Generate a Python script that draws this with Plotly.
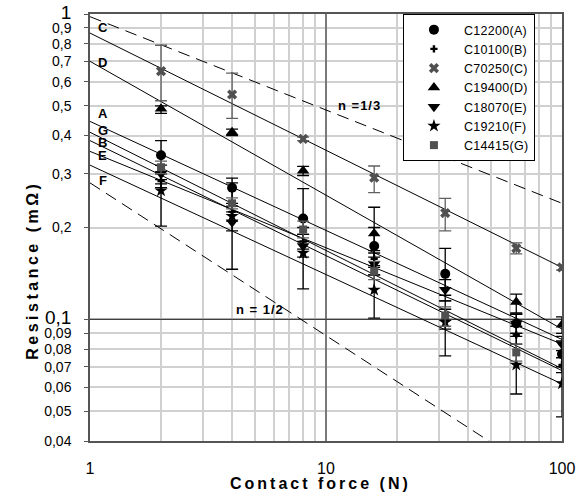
import numpy as np
import plotly.graph_objects as go

FONT = "Liberation Sans, Arial, sans-serif"

force = [2, 4, 8, 16, 32, 64, 100]
series_names = ["C12200(A)", "C10100(B)", "C70250(C)", "C19400(D)", "C18070(E)", "C19210(F)", "C14415(G)"]

res_A = [0.345, 0.27, 0.214, 0.174, 0.141, 0.097, 0.077]
res_B = [0.284, 0.225, 0.18, 0.158, 0.10, 0.089, 0.071]
res_C = [0.65, 0.545, 0.39, 0.291, 0.223, 0.171, 0.148]
res_D = [0.49, 0.41, 0.307, 0.191, None, 0.114, 0.096]
res_E = [0.30, 0.208, 0.174, 0.152, 0.125, 0.097, 0.083]
res_F = [0.264, 0.218, 0.165, 0.125, 0.098, 0.071, 0.0617]
res_G = [0.315, 0.24, 0.197, 0.144, 0.103, 0.078, None]

low_A = [0.30, 0.24, 0.18, 0.14, 0.12, 0.088, 0.07]
up_A = [0.385, 0.29, 0.268, 0.20, 0.171, 0.104, 0.085]
low_B = [0.27, 0.21, 0.17, 0.148, 0.093, 0.083, 0.067]
up_B = [0.30, 0.235, 0.19, 0.168, 0.108, 0.095, 0.075]
low_C = [0.52, 0.455, 0.385, 0.26, 0.195, 0.164, 0.145]
up_C = [0.79, 0.64, 0.395, 0.318, 0.249, 0.178, 0.151]
low_D = [0.473, 0.40, 0.296, 0.16, None, 0.105, 0.09]
up_D = [0.50, 0.42, 0.317, 0.233, None, 0.121, 0.102]
low_E = [0.278, 0.195, 0.16, 0.14, 0.115, 0.09, 0.079]
up_E = [0.32, 0.225, 0.19, 0.165, 0.135, 0.104, 0.088]
low_F = [0.202, 0.146, 0.126, 0.101, 0.076, 0.057, 0.048]
up_F = [0.287, 0.28, 0.20, 0.15, 0.115, 0.09, 0.075]
low_G = [0.30, 0.23, 0.185, 0.135, 0.095, 0.073, None]
up_G = [0.33, 0.25, 0.21, 0.155, 0.11, 0.083, None]

# power-law fit lines: resistance at F = 1 N and at F = 100 N
fit_force = [1, 100]
fit_A = [0.445, 0.086]
fit_B = [0.385, 0.068]
fit_C = [0.866, 0.148]
fit_D = [0.70, 0.093]
fit_E = [0.355, 0.083]
fit_F = [0.32, 0.0615]
fit_G = [0.41, 0.069]

# reference slopes
ref_n13 = [0.98, 0.24]
ref_n12 = [0.28, 0.028]

values = [res_A, res_B, res_C, res_D, res_E, res_F, res_G]
lows = [low_A, low_B, low_C, low_D, low_E, low_F, low_G]
ups = [up_A, up_B, up_C, up_D, up_E, up_F, up_G]
fits = [fit_A, fit_B, fit_C, fit_D, fit_E, fit_F, fit_G]

styles = [
    dict(symbol="circle", size=10, color="black"),
    dict(symbol="cross", size=6, color="black"),
    dict(symbol="x", size=9, color="#505050"),
    dict(symbol="triangle-up", size=11, color="black"),
    dict(symbol="triangle-down", size=11, color="black"),
    dict(symbol="star", size=10, color="black"),
    dict(symbol="square", size=8, color="#505050"),
]


def spaced(s, px):
    return "<span style='letter-spacing:%spx'>%s</span>" % (px, s)


fig = go.Figure()

# major grid lines (darker) at 10 N and 0.1 mOhm
fig.add_trace(go.Scatter(x=[10, 10], y=[0.04, 1], mode="lines",
                         line=dict(color="#404040", width=1.2), showlegend=False, hoverinfo="skip"))
fig.add_trace(go.Scatter(x=[1, 100], y=[0.1, 0.1], mode="lines",
                         line=dict(color="#404040", width=1.2), showlegend=False, hoverinfo="skip"))

# reference dashed lines
for ref in (ref_n13, ref_n12):
    fig.add_trace(go.Scatter(x=fit_force, y=ref, mode="lines",
                             line=dict(color="black", width=1, dash="12px,7px"),
                             showlegend=False, hoverinfo="skip"))

# fit lines
for fit in fits:
    fig.add_trace(go.Scatter(x=fit_force, y=fit, mode="lines",
                             line=dict(color="black", width=1), showlegend=False, hoverinfo="skip"))

# data points with error bars
for name, vals, lo, up, st in zip(series_names, values, lows, ups, styles):
    plus = [None if (v is None or u is None) else u - v for v, u in zip(vals, up)]
    minus = [None if (v is None or l is None) else v - l for v, l in zip(vals, lo)]
    ecol = "#606060" if st["color"] != "black" else "black"
    fig.add_trace(go.Scatter(
        x=force, y=vals, mode="markers", name=spaced(name, 0.3),
        marker=dict(symbol=st["symbol"], size=st["size"], color=st["color"],
                    line=dict(width=0)),
        error_y=dict(type="data", symmetric=False, array=plus, arrayminus=minus,
                     color=ecol, thickness=1.3, width=6),
    ))

# y tick labels
y_ticks = [1, 0.9, 0.8, 0.7, 0.6, 0.5, 0.4, 0.3, 0.2, 0.1, 0.09, 0.08, 0.07, 0.06, 0.05, 0.04]
y_text = []
for v in y_ticks:
    s = ("%g" % v).replace(".", ",")
    if v in (1, 0.1):
        s = "<span style='font-size:19px'>" + s + "</span>"
    y_text.append(s)

x_ticks = [1, 2, 3, 4, 5, 6, 7, 8, 9, 10, 20, 30, 40, 50, 60, 70, 80, 90, 100]
x_text = [str(v) if v in (1, 10, 100) else "" for v in x_ticks]

fig.update_layout(
    width=578, height=494,
    margin=dict(l=90, r=16, t=14, b=53),
    paper_bgcolor="white", plot_bgcolor="white",
    font=dict(family=FONT, color="black"),
    showlegend=True,
    legend=dict(x=0.663, y=1, xanchor="left", yanchor="top",
                bgcolor="white", bordercolor="black", borderwidth=1,
                font=dict(size=12.5, family=FONT), tracegroupgap=0, itemwidth=50),
    xaxis=dict(type="log", range=[0, 2], tickvals=x_ticks, ticktext=x_text,
               showgrid=True, gridcolor="#d0d0d0", gridwidth=1.5,
               showline=True, linecolor="#555555", linewidth=1.5, mirror=True,
               ticks="", tickfont=dict(size=16), ticklabelstandoff=12,
               zeroline=False, automargin=False),
    yaxis=dict(type="log", range=[np.log10(0.04), 0], tickvals=y_ticks, ticktext=y_text,
               showgrid=True, gridcolor="#d0d0d0", gridwidth=1.5,
               showline=True, linecolor="#555555", linewidth=1.5, mirror=True,
               ticks="outside", ticklen=4, tickcolor="#555555",
               tickfont=dict(size=14), ticklabelstandoff=10,
               zeroline=False, automargin=False),
)

# axis titles
fig.add_annotation(x=0.489, y=-0.1, xref="paper", yref="paper", yanchor="middle",
                   text="<b>" + spaced("Contact force (N)", 3) + "</b>", showarrow=False,
                   font=dict(size=16, family=FONT))
fig.add_annotation(x=-0.144, y=0.40, xref="paper", yref="paper", textangle=-90,
                   text="<b>" + spaced("Resistance (mΩ)", 3.5) + "</b>", showarrow=False,
                   font=dict(size=16, family=FONT))

# series letters next to fit line starts
letter_pos = {"C": 0.90, "D": 0.695, "A": 0.472, "G": 0.415, "B": 0.379, "E": 0.344, "F": 0.284}
for k, v in letter_pos.items():
    fig.add_annotation(x=np.log10(1.135), y=np.log10(v), xref="x", yref="y",
                       text="<b>" + k + "</b>", showarrow=False,
                       font=dict(size=13, family=FONT))

fig.add_annotation(x=np.log10(13.9), y=np.log10(0.5), xref="x", yref="y",
                   text="<b>" + spaced("n =1/3", 1) + "</b>", showarrow=False,
                   font=dict(size=13, family=FONT))
fig.add_annotation(x=np.log10(5.25), y=np.log10(0.108), xref="x", yref="y",
                   text="<b>" + spaced("n = 1/2", 1) + "</b>", showarrow=False,
                   font=dict(size=13, family=FONT))

fig.write_html("out.html")
